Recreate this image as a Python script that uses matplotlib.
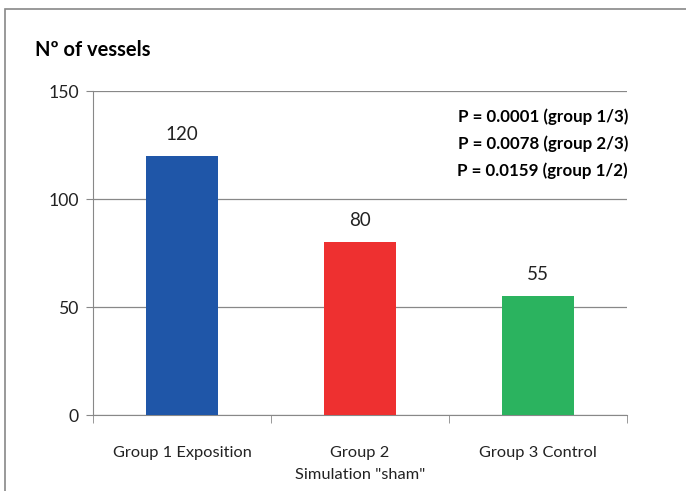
import matplotlib.pyplot as plt
from matplotlib.patches import Rectangle

plt.rcParams['font.family'] = ['Lato', 'DejaVu Sans']

groups = ['Group 1 Exposition', 'Group 2\nSimulation "sham"', 'Group 3 Control']
vessels = [120, 80, 55]
colors = ['#1F56A8', '#EE3030', '#2BB35F']
p_lines = ['P = 0.0001 (group 1/3)', 'P = 0.0078 (group 2/3)', 'P = 0.0159 (group 1/2)']

fig = plt.figure(figsize=(6.86, 4.91), dpi=100)
# outer chart frame
fig.patches.append(Rectangle((5 / 686, -0.1), 1.1, 1 - 9 / 491 + 0.1,
                             transform=fig.transFigure, fill=False,
                             edgecolor='#888888', linewidth=1.2))

ax = fig.add_axes([93 / 686, 1 - 415 / 491, 534 / 686, 324 / 491])
x = range(len(groups))
bars = ax.bar(x, vessels, width=0.41, color=colors, zorder=3)
for b, v in zip(bars, vessels):
    ax.text(b.get_x() + b.get_width() / 2, v + 6, str(v), ha='center',
            va='bottom', fontsize=13.5, color='#222222')

ax.set_xlim(-0.5, 2.5)
ax.set_ylim(0, 150)
ax.set_yticks([0, 50, 100, 150])
ax.set_xticks(x)
ax.set_xticklabels(groups, fontsize=11.8, color='#222222', linespacing=1.75)
ax.set_xticks([-0.5, 0.5, 1.5, 2.5], minor=True)
ax.tick_params(axis='x', which='major', length=0, pad=22)
ax.tick_params(axis='x', which='minor', length=6, color='#888888')
ax.tick_params(axis='y', length=5, color='#888888', labelsize=12.7,
               labelcolor='#222222', pad=5)
ax.grid(axis='y', color='#888888', linewidth=0.9, zorder=0)
for s in ['top', 'right']:
    ax.spines[s].set_visible(False)
for s in ['left', 'bottom']:
    ax.spines[s].set_color('#888888')

fig.text(35 / 686, 1 - 50 / 491, 'Nº of vessels', fontsize=14.5, fontweight='bold',
         va='center', ha='left')
for i, line in enumerate(p_lines):
    fig.text(628 / 686, 1 - (117 + 27 * i) / 491, line, fontsize=12.2,
             fontweight='bold', ha='right', va='center')

fig.savefig('out.png', dpi=100)
